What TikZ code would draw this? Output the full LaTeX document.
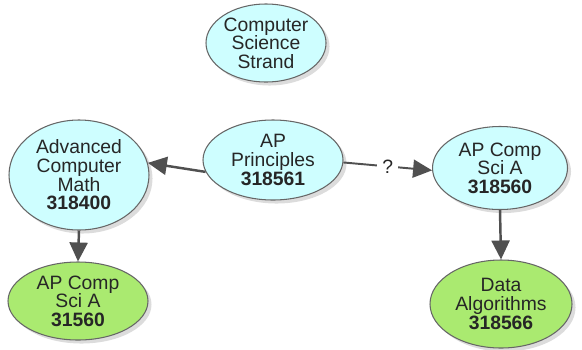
\documentclass[tikz,border=0pt]{standalone}
\usepackage{fontspec}
\setmainfont{Liberation Sans}
\usetikzlibrary{shapes.geometric,shadows,arrows.meta}
\definecolor{bubblecyan}{RGB}{206,254,255}
\definecolor{bubblegreen}{RGB}{170,234,112}
\definecolor{linkgray}{RGB}{80,80,80}

\begin{document}
\begin{tikzpicture}[
  course/.style={ellipse, draw=gray!80!black, line width=0.6pt, inner sep=0pt,
    align=center, text=black!85, font=\fontsize{11}{10.6}\selectfont,
    drop shadow={shadow xshift=2pt, shadow yshift=-2pt, fill=gray!55}},
  link/.style={draw=linkgray, line width=1.4pt,
    -{Triangle[length=0.38cm, width=0.36cm]}}
]
\useasboundingbox (0,0) rectangle (11.64,-6.98);

% Course bubbles
\node[course, fill=bubblecyan, minimum width=2.28cm, minimum height=1.56cm] (strand) at (5.32,-0.86)
  {Computer\\Science\\Strand};
\node[course, fill=bubblecyan, minimum width=2.8cm, minimum height=2.2cm] (acm) at (1.58,-3.5)
  {Advanced\\Computer\\Math\\\textbf{318400}};
\node[course, fill=bubblegreen, minimum width=2.8cm, minimum height=1.56cm] (csaleft) at (1.56,-6.02)
  {AP Comp\\Sci A\\\textbf{31560}};
\node[course, fill=bubblecyan, minimum width=2.8cm, minimum height=1.6cm] (prin) at (5.46,-3.2)
  {AP\\Principles\\\textbf{318561}};
\node[course, fill=bubblecyan, minimum width=2.7cm, minimum height=1.66cm] (csa) at (10.0,-3.36)
  {AP Comp\\Sci A\\\textbf{318560}};
\node[course, fill=bubblegreen, minimum width=2.84cm, minimum height=1.76cm] (data) at (10.02,-6.08)
  {Data\\Algorithms\\\textbf{318566}};

% Links
\draw[link] (prin.190) -- (acm.10);
\draw[link, line width=1.1pt] (prin.-2) -- node[fill=white, inner sep=3pt, text=black!85, font=\fontsize{11}{11}\selectfont] {?} (csa.182);
\draw[link] (acm.south) -- (csaleft.north);
\draw[link] (csa.south) -- (data.north);

\end{tikzpicture}
\end{document}
